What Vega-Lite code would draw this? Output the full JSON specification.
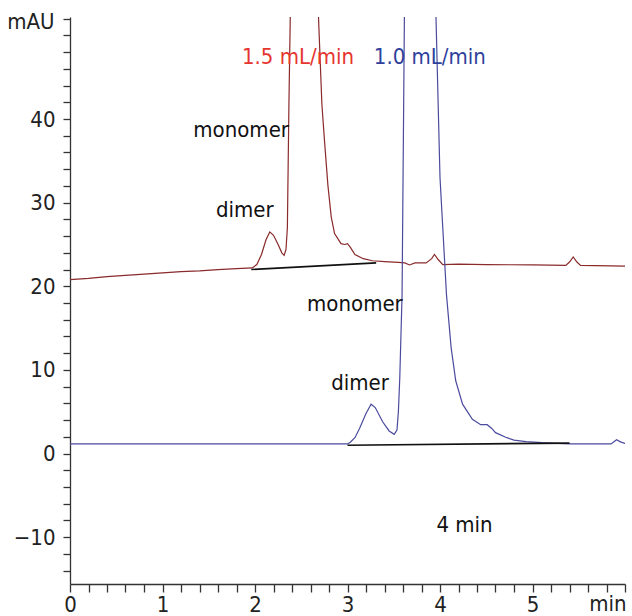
{
  "$schema": "https://vega.github.io/schema/vega-lite/v6.json",
  "width": 555,
  "height": 567,
  "autosize": {"type": "none"},
  "padding": {"left": 70, "top": 17, "right": 7, "bottom": 32},
  "background": "white",
  "config": {"view": {"stroke": null}},
  "datasets": {
    "traces": [
      {"s": "r", "t": 0, "v": 20.8}, {"s": "r", "t": 0.2, "v": 20.95}, {"s": "r", "t": 0.4, "v": 21.15}, {"s": "r", "t": 0.6, "v": 21.3},
      {"s": "r", "t": 0.8, "v": 21.45}, {"s": "r", "t": 1.0, "v": 21.6}, {"s": "r", "t": 1.2, "v": 21.75}, {"s": "r", "t": 1.4, "v": 21.85},
      {"s": "r", "t": 1.6, "v": 22.0}, {"s": "r", "t": 1.8, "v": 22.1}, {"s": "r", "t": 1.97, "v": 22.2}, {"s": "r", "t": 2.02, "v": 22.6},
      {"s": "r", "t": 2.07, "v": 23.8}, {"s": "r", "t": 2.12, "v": 25.6}, {"s": "r", "t": 2.16, "v": 26.5}, {"s": "r", "t": 2.2, "v": 26.1},
      {"s": "r", "t": 2.25, "v": 25.0}, {"s": "r", "t": 2.29, "v": 24.0}, {"s": "r", "t": 2.315, "v": 23.7}, {"s": "r", "t": 2.335, "v": 24.4},
      {"s": "r", "t": 2.35, "v": 27}, {"s": "r", "t": 2.367, "v": 42}, {"s": "r", "t": 2.381, "v": 52}, {"s": "r", "t": 2.45, "v": 120},
      {"s": "r", "t": 2.53, "v": 150}, {"s": "r", "t": 2.62, "v": 110}, {"s": "r", "t": 2.687, "v": 52}, {"s": "r", "t": 2.723, "v": 41.8},
      {"s": "r", "t": 2.752, "v": 37.3}, {"s": "r", "t": 2.788, "v": 32.1}, {"s": "r", "t": 2.824, "v": 28.3}, {"s": "r", "t": 2.86, "v": 26.3},
      {"s": "r", "t": 2.93, "v": 25.1}, {"s": "r", "t": 2.97, "v": 25.0}, {"s": "r", "t": 3.0, "v": 25.1}, {"s": "r", "t": 3.035, "v": 24.6},
      {"s": "r", "t": 3.08, "v": 23.8}, {"s": "r", "t": 3.17, "v": 23.3}, {"s": "r", "t": 3.27, "v": 23.05}, {"s": "r", "t": 3.4, "v": 22.95},
      {"s": "r", "t": 3.55, "v": 22.85}, {"s": "r", "t": 3.62, "v": 22.8}, {"s": "r", "t": 3.67, "v": 22.55}, {"s": "r", "t": 3.73, "v": 22.8},
      {"s": "r", "t": 3.85, "v": 22.8}, {"s": "r", "t": 3.91, "v": 23.3}, {"s": "r", "t": 3.94, "v": 23.8}, {"s": "r", "t": 3.98, "v": 23.2},
      {"s": "r", "t": 4.03, "v": 22.6}, {"s": "r", "t": 4.2, "v": 22.65}, {"s": "r", "t": 4.5, "v": 22.6}, {"s": "r", "t": 5.0, "v": 22.55},
      {"s": "r", "t": 5.36, "v": 22.5}, {"s": "r", "t": 5.4, "v": 22.9}, {"s": "r", "t": 5.44, "v": 23.5}, {"s": "r", "t": 5.48, "v": 22.9},
      {"s": "r", "t": 5.52, "v": 22.5}, {"s": "r", "t": 6.0, "v": 22.4},
      {"s": "b", "t": 0, "v": 1.15}, {"s": "b", "t": 1.0, "v": 1.15}, {"s": "b", "t": 2.0, "v": 1.15}, {"s": "b", "t": 3.0, "v": 1.15},
      {"s": "b", "t": 3.03, "v": 1.35}, {"s": "b", "t": 3.08, "v": 1.9}, {"s": "b", "t": 3.13, "v": 3.0}, {"s": "b", "t": 3.2, "v": 4.8},
      {"s": "b", "t": 3.255, "v": 5.9}, {"s": "b", "t": 3.3, "v": 5.5}, {"s": "b", "t": 3.38, "v": 3.8}, {"s": "b", "t": 3.45, "v": 2.7},
      {"s": "b", "t": 3.505, "v": 2.3}, {"s": "b", "t": 3.535, "v": 2.8}, {"s": "b", "t": 3.55, "v": 5.0}, {"s": "b", "t": 3.565, "v": 9.0},
      {"s": "b", "t": 3.59, "v": 19}, {"s": "b", "t": 3.615, "v": 52}, {"s": "b", "t": 3.68, "v": 120}, {"s": "b", "t": 3.78, "v": 150},
      {"s": "b", "t": 3.88, "v": 110}, {"s": "b", "t": 3.957, "v": 52}, {"s": "b", "t": 4.0, "v": 33}, {"s": "b", "t": 4.07, "v": 19},
      {"s": "b", "t": 4.12, "v": 12.7}, {"s": "b", "t": 4.17, "v": 8.7}, {"s": "b", "t": 4.244, "v": 5.9}, {"s": "b", "t": 4.35, "v": 4.1},
      {"s": "b", "t": 4.44, "v": 3.45}, {"s": "b", "t": 4.51, "v": 3.45}, {"s": "b", "t": 4.56, "v": 3.0}, {"s": "b", "t": 4.6, "v": 2.5},
      {"s": "b", "t": 4.71, "v": 1.95}, {"s": "b", "t": 4.8, "v": 1.6}, {"s": "b", "t": 4.93, "v": 1.43}, {"s": "b", "t": 5.1, "v": 1.3},
      {"s": "b", "t": 5.4, "v": 1.15}, {"s": "b", "t": 5.85, "v": 1.15}, {"s": "b", "t": 5.88, "v": 1.4}, {"s": "b", "t": 5.91, "v": 1.65},
      {"s": "b", "t": 5.95, "v": 1.4}, {"s": "b", "t": 6.0, "v": 1.2}
    ],
    "bases": [
      {"s": "r", "t": 1.96, "v": 22.0}, {"s": "r", "t": 3.31, "v": 22.8},
      {"s": "b", "t": 3.0, "v": 1.0}, {"s": "b", "t": 5.4, "v": 1.25}
    ],
    "labels": [
      {"kind": "flow15", "label": "1.5 mL/min", "t": 2.465, "v": 46.6},
      {"kind": "flow10", "label": "1.0 mL/min", "t": 3.89, "v": 46.6},
      {"kind": "peak", "label": "monomer", "t": 1.85, "v": 37.9},
      {"kind": "peak", "label": "dimer", "t": 1.89, "v": 28.3},
      {"kind": "peak", "label": "monomer", "t": 3.08, "v": 17.0},
      {"kind": "peak", "label": "dimer", "t": 3.135, "v": 7.6},
      {"kind": "peak", "label": "4 min", "t": 4.265, "v": -9.35}
    ]
  },
  "encoding": {
    "x": {
      "field": "t", "type": "quantitative",
      "scale": {"domain": [0, 6], "nice": false, "zero": false},
      "axis": {
        "values": [0, 0.2, 0.4, 0.6, 0.8, 1, 1.2, 1.4, 1.6, 1.8, 2, 2.2, 2.4, 2.6, 2.8, 3, 3.2, 3.4, 3.6, 3.8, 4, 4.2, 4.4, 4.6, 4.8, 5, 5.2, 5.4, 5.6, 5.8, 6],
        "labelExpr": "abs(datum.value - round(datum.value)) < 0.01 && datum.value < 5.99 ? format(datum.value, 'd') : ''",
        "labelOverlap": false, "labelFlush": false, "grid": false,
        "tickSize": 8, "tickWidth": 1.3, "tickColor": "#333",
        "domainColor": "#333", "domainWidth": 1.3,
        "labelPadding": 2, "labelFont": "DejaVu Sans Condensed, Liberation Sans, sans-serif", "labelFontSize": 22, "labelColor": "#222",
        "title": "min", "titleX": 556, "titleY": 26, "titleAlign": "right", "titleBaseline": "alphabetic", "titleAnchor": null,
        "titleFont": "DejaVu Sans Condensed, Liberation Sans, sans-serif", "titleFontSize": 22, "titleFontWeight": "normal", "titleColor": "#222"
      }
    },
    "y": {
      "field": "v", "type": "quantitative",
      "scale": {"domain": [-15.6, 52.2], "nice": false, "zero": false},
      "axis": {
        "values": [-14, -12, -10, -8, -6, -4, -2, 0, 2, 4, 6, 8, 10, 12, 14, 16, 18, 20, 22, 24, 26, 28, 30, 32, 34, 36, 38, 40, 42, 44, 46, 48, 50, 52],
        "labelExpr": "datum.value % 10 === 0 && datum.value < 45 ? datum.label : ''",
        "labelOverlap": false, "labelFlush": false, "grid": false,
        "tickSize": 7, "tickWidth": 1.3, "tickColor": "#333",
        "domainColor": "#333", "domainWidth": 1.3,
        "labelPadding": 8, "labelFont": "DejaVu Sans Condensed, Liberation Sans, sans-serif", "labelFontSize": 22, "labelColor": "#222",
        "title": "mAU", "titleAngle": 0, "titleX": -16, "titleY": 11, "titleAlign": "right", "titleBaseline": "alphabetic", "titleAnchor": null,
        "titleFont": "DejaVu Sans Condensed, Liberation Sans, sans-serif", "titleFontSize": 22, "titleFontWeight": "normal", "titleColor": "#222"
      }
    }
  },
  "layer": [
    {
      "data": {"name": "traces"},
      "mark": {"type": "line", "clip": true, "strokeWidth": 1.2},
      "encoding": {
        "color": {"field": "s", "type": "nominal", "scale": {"domain": ["r", "b"], "range": ["#8a2a2a", "#4b4b9e"]}, "legend": null}
      }
    },
    {
      "data": {"name": "bases"},
      "mark": {"type": "line", "color": "#111111", "strokeWidth": 1.6},
      "encoding": {"detail": {"field": "s", "type": "nominal"}}
    },
    {
      "data": {"name": "labels"},
      "transform": [{"filter": "datum.kind === 'peak'"}],
      "mark": {"type": "text", "align": "center", "baseline": "alphabetic", "font": "DejaVu Sans Condensed, Liberation Sans, sans-serif", "fontSize": 22, "color": "#111111"},
      "encoding": {"text": {"field": "label", "type": "nominal"}}
    },
    {
      "data": {"name": "labels"},
      "transform": [{"filter": "datum.kind === 'flow15'"}],
      "mark": {"type": "text", "align": "center", "baseline": "alphabetic", "font": "DejaVu Sans Condensed, Liberation Sans, sans-serif", "fontSize": 22, "color": "#e6352f"},
      "encoding": {"text": {"field": "label", "type": "nominal"}}
    },
    {
      "data": {"name": "labels"},
      "transform": [{"filter": "datum.kind === 'flow10'"}],
      "mark": {"type": "text", "align": "center", "baseline": "alphabetic", "font": "DejaVu Sans Condensed, Liberation Sans, sans-serif", "fontSize": 22, "color": "#2f3f9c"},
      "encoding": {"text": {"field": "label", "type": "nominal"}}
    }
  ]
}
